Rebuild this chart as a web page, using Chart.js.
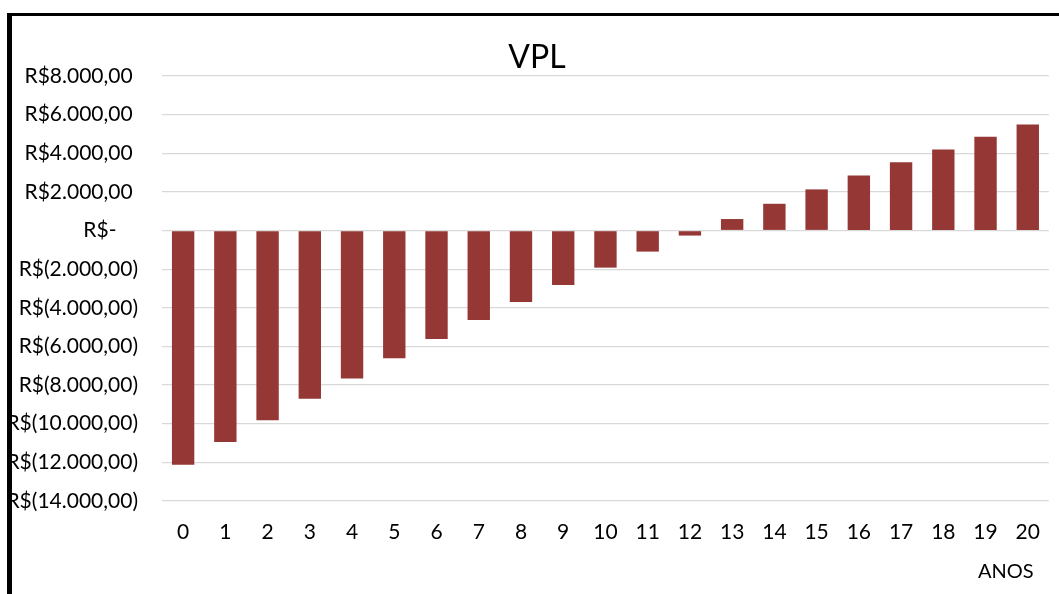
<!DOCTYPE html>
<html>
<head>
<meta charset="utf-8">
<script src="https://cdn.jsdelivr.net/npm/chart.js@4.4.1/dist/chart.umd.min.js"></script>
<style>
  html, body { margin: 0; padding: 0; background: #ffffff; }
  #wrap { position: relative; width: 1059px; height: 594px; }
  canvas { display: block; }
</style>
</head>
<body>
<div id="wrap"><canvas id="c" width="1059" height="594"></canvas></div>
<script>
// ---- data ----
const categories = ['0','1','2','3','4','5','6','7','8','9','10','11','12','13','14','15','16','17','18','19','20'];
const vplValues = [-12120, -10950, -9815, -8710, -7660, -6610, -5610, -4630, -3700, -2820, -1920, -1090, -260, 595, 1385, 2130, 2855, 3540, 4200, 4850, 5490];
const yMin = -14000;
const yMax = 8000;
const yStep = 2000;
const chartTitle = 'VPL';
const xAxisTitle = 'ANOS';

function fmtBRL(v) {
  const abs = Math.abs(v);
  const intPart = Math.floor(abs).toString().replace(/\B(?=(\d{3})+(?!\d))/g, '.');
  const dec = ',' + (Math.round((abs - Math.floor(abs)) * 100)).toString().padStart(2, '0');
  if (v === 0) return 'R$-    ';
  if (v < 0) return 'R$(' + intPart + dec + ')';
  return 'R$' + intPart + dec + ' ';
}

const FONT = 'Lato, "Open Sans", sans-serif';

const decorPlugin = {
  id: 'decor',
  afterDraw(chart) {
    const ctx = chart.ctx;
    ctx.save();
    // title
    ctx.fillStyle = '#000000';
    ctx.font = '32px ' + FONT;
    ctx.textAlign = 'center';
    ctx.textBaseline = 'alphabetic';
    ctx.fillText(chartTitle, 537, 68);
    // x axis title
    ctx.font = '20px ' + FONT;
    ctx.textAlign = 'left';
    ctx.fillText(xAxisTitle, 978, 578);
    // outer frame (cut-off chart border)
    ctx.fillStyle = '#ffffff';
    ctx.fillRect(0, 0, 7, 594);
    ctx.fillRect(0, 0, 1059, 13);
    ctx.fillStyle = '#000000';
    ctx.fillRect(7, 13, 1052, 3);
    ctx.fillRect(7, 13, 5, 581);
    ctx.restore();
  }
};

new Chart(document.getElementById('c'), {
  type: 'bar',
  data: {
    labels: categories,
    datasets: [{
      label: chartTitle,
      data: vplValues,
      backgroundColor: '#953735',
      borderWidth: 0,
      barPercentage: 0.53,
      categoryPercentage: 1.0
    }]
  },
  options: {
    responsive: false,
    animation: false,
    devicePixelRatio: 1,
    layout: { padding: { top: 76, left: 0, right: 2, bottom: 0 } },
    plugins: {
      legend: { display: false },
      title: { display: false },
      tooltip: { enabled: false }
    },
    scales: {
      x: {
        grid: { display: false, drawTicks: false },
        border: { display: false },
        ticks: {
          color: '#000000',
          font: { family: FONT, size: 21 },
          padding: 19,
          maxRotation: 0,
          autoSkip: false
        },
        afterFit(scale) { scale.height = 93; }
      },
      y: {
        min: yMin,
        max: yMax,
        grid: { color: '#d9d9d9', lineWidth: 1.3, drawTicks: false },
        border: { display: false },
        ticks: {
          stepSize: yStep,
          color: '#000000',
          font: { family: FONT, size: 21 },
          padding: 24,
          callback: (v) => fmtBRL(v)
        },
        afterFit(scale) { scale.width = 162; }
      }
    }
  },
  plugins: [decorPlugin]
});
</script>
</body>
</html>
